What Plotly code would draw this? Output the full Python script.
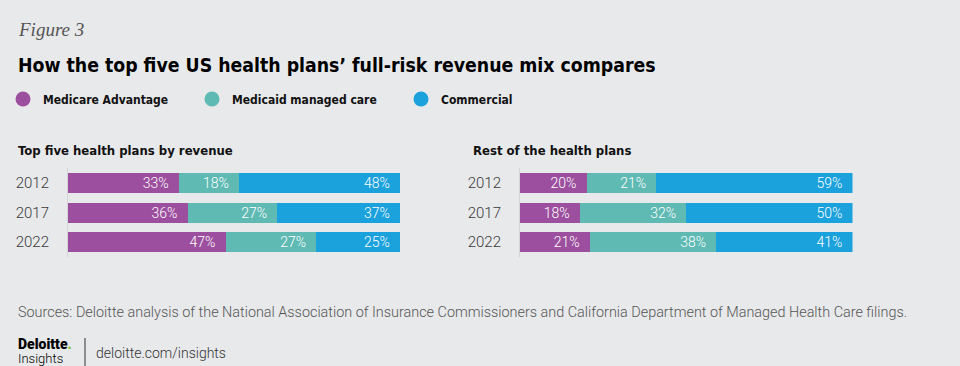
import plotly.graph_objects as go

years = ["2012", "2017", "2022"]
segments = ["Medicare Advantage", "Medicaid managed care", "Commercial"]
colors = ["#9c4f9e", "#60bab4", "#1ba1dc"]

top5_ma = [33, 36, 47]
top5_mc = [18, 27, 27]
top5_com = [48, 37, 25]

rest_ma = [20, 18, 21]
rest_mc = [21, 32, 38]
rest_com = [59, 50, 41]

W, H = 960, 366
BG = "#e8e9eb"
COND = "DejaVu Sans Condensed"
LIGHT = "Roboto"

def px(x):
    return x / W

def py(y):
    return 1 - y / H

fig = go.Figure()

panels = [
    ("x", "y", [top5_ma, top5_mc, top5_com]),
    ("x2", "y2", [rest_ma, rest_mc, rest_com]),
]
for xa, ya, series in panels:
    for name, vals, col in zip(segments, series, colors):
        fig.add_trace(go.Bar(
            y=years, x=vals, orientation="h", name=name,
            marker=dict(color=col, line=dict(width=0)),
            text=[f"{v}%" for v in vals],
            texttemplate="%{text}\u2002",
            textposition="inside", insidetextanchor="end",
            textfont=dict(color="white", size=14, family=LIGHT, weight=300),
            constraintext="none",
            xaxis=xa, yaxis=ya, showlegend=False, hoverinfo="skip",
        ))

legend_names = ["legend", "legend2", "legend3"]
for name, col, lg in zip(segments, colors, legend_names):
    fig.add_trace(go.Scatter(
        x=[None], y=[None], mode="markers", name=name,
        marker=dict(color=col, size=15, symbol="circle"),
        legend=lg, showlegend=True, xaxis="x", yaxis="y",
    ))

legend_x = [3, 192, 401]
leg_common = dict(orientation="h", yanchor="middle", xanchor="left",
                  bgcolor="rgba(0,0,0,0)",
                  font=dict(family=COND, size=12, color="#111", weight="bold"))
fig.update_layout(
    legend=dict(x=px(legend_x[0]), y=py(99), **leg_common),
    legend2=dict(x=px(legend_x[1]), y=py(99), **leg_common),
    legend3=dict(x=px(legend_x[2]), y=py(99), **leg_common),
)

ydom = [py(257), py(168.4)]
xaxis_common = dict(range=[0, 100], visible=False, fixedrange=True)
yaxis_common = dict(
    type="category", autorange="reversed", showgrid=False, zeroline=False,
    showline=True, linecolor="#d4d5d7", linewidth=1, ticks="",
    ticklabelstandoff=15,
    tickfont=dict(family=LIGHT, size=15, color="#3a3a3a", weight=300),
    fixedrange=True,
)
fig.update_layout(
    xaxis=dict(domain=[px(68), px(400)], anchor="y", **xaxis_common),
    yaxis=dict(domain=ydom, anchor="x", **yaxis_common),
    xaxis2=dict(domain=[px(520), px(852.5)], anchor="y2", **xaxis_common),
    yaxis2=dict(domain=ydom, anchor="x2", **yaxis_common),
    barmode="stack", barnorm="percent", bargap=0.32,
    width=W, height=H, margin=dict(l=0, r=0, t=0, b=0),
    paper_bgcolor=BG, plot_bgcolor=BG,
)

def ann(text, x, y, size, color="#111", family=COND, weight="normal", style="normal", xanchor="left"):
    fig.add_annotation(text=text, x=px(x), y=py(y), xref="paper", yref="paper",
                       xanchor=xanchor, yanchor="middle", showarrow=False,
                       font=dict(family=family, size=size, color=color, weight=weight, style=style))

ann("Figure 3", 16, 30, 19, color="#555", family="Liberation Serif", style="italic")
ann("How the top five US health plans\u2019 full-risk revenue mix compares", 16, 66, 19.3,
    color="#000", weight="bold")
ann("Top five health plans by revenue", 16, 150, 13, weight="bold")
ann("Rest of the health plans", 471, 150, 13, weight="bold")
ann("Sources: Deloitte analysis of the National Association of Insurance Commissioners and California Department of Managed Health Care filings.",
    16, 312, 14.4, color="#555", family=LIGHT, weight=300)
ann("Deloitte<span style='color:#86bc25'>.</span>", 16, 344, 14, color="#000", family="Roboto", weight=900)
ann("Insights", 16, 358, 13, color="#000", family="Roboto", weight=300)
ann("deloitte.com/insights", 94, 353, 14, color="#333", family=LIGHT, weight=300)
fig.add_shape(type="line", xref="paper", yref="paper", x0=px(85), x1=px(85),
              y0=py(338), y1=py(366), line=dict(color="#333", width=1))

fig.write_html("out.html", config={"displayModeBar": False},
               post_script="document.body.style.margin='0';document.body.style.background='%s';" % BG)
